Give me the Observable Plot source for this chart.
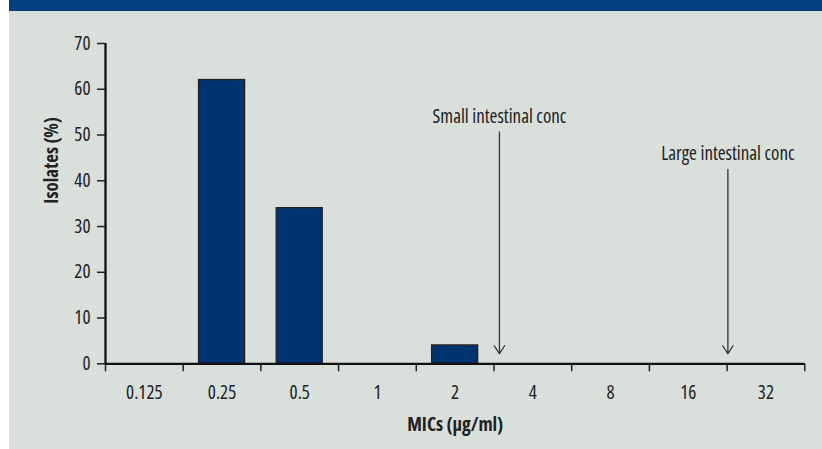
<!DOCTYPE html>
<html><head><meta charset="utf-8">
<script src="https://cdn.jsdelivr.net/npm/d3@7"></script>
<script src="https://cdn.jsdelivr.net/npm/@observablehq/plot@0.6"></script>
<style>
body{margin:0;background:#fff;}
#panel{position:absolute;left:9px;top:0;width:813px;height:449px;background:#d9e0dc;overflow:hidden;}
#band{height:11px;background:#023f80;}
#chart svg{display:block;}
#chart text{font-stretch:75%;}
</style></head><body>
<div id="panel"><div id="band"></div><div id="chart"></div></div>
<script>
// Data
const categories = ["0.125", "0.25", "0.5", "1", "2", "4", "8", "16", "32"];
const isolates = [0, 62, 34, 0, 4, 0, 0, 0, 0];
const yTicks = [0, 10, 20, 30, 40, 50, 60, 70];
const annLabels = ["Small intestinal conc", "Large intestinal conc"];
const annPos = [5.07, 8.01];      // position along the category axis (category index units)
const annTop = [50.7, 42.5];      // arrow start (Isolates %)
const annTip = [2.2, 2.2];        // arrow tip (Isolates %)

const FONT = "'Open Sans', sans-serif";
const FS = 19;
const barPad = 0.205;

const bars = categories.map((c, i) => ({cat: c, i, v: isolates[i]})).filter(d => d.v > 0);
const anns = annLabels.map((l, k) => ({label: l, pos: annPos[k], top: annTop[k], tip: annTip[k]}));
const boundaries = d3.range(categories.length + 1);
const centers = categories.map((c, i) => i + 0.5);

const chart = Plot.plot({
  width: 813,
  height: 438,
  marginTop: 32,
  marginBottom: 85.7,
  marginLeft: 96,
  marginRight: 17.7,
  style: {background: "transparent", fontFamily: FONT, fontSize: FS + "px", color: "#222", fontStretch: "75%"},
  x: {type: "linear", domain: [0, categories.length], axis: null},
  y: {domain: [0, 70], axis: null},
  marks: [
    Plot.axisY({ticks: yTicks, tickSize: 8, tickPadding: 7, tickFormat: d => String(d), label: null, strokeWidth: 1.5, fontSize: FS}),
    Plot.axisX({ticks: boundaries, tickSize: 8, tickFormat: () => "", label: null, strokeWidth: 1.5}),
    Plot.axisX({ticks: centers, tickSize: 0, tickPadding: 22, tickFormat: d => categories[Math.round(d - 0.5)], label: null, fontSize: FS}),
    Plot.rectY(bars, {x1: d => d.i + barPad, x2: d => d.i + 1 - barPad, y1: 0, y2: "v", fill: "#003471", stroke: "#222", strokeWidth: 1.5}),
    Plot.ruleX([0], {y1: 0, y2: 70, stroke: "#111", strokeWidth: 2.3}),
    Plot.ruleY([0], {x1: 0, x2: categories.length, stroke: "#111", strokeWidth: 2.3}),
    Plot.arrow(anns, {x1: "pos", x2: "pos", y1: "top", y2: "tip", stroke: "#333", strokeWidth: 1.3, headLength: 11, headAngle: 66}),
    Plot.text(anns, {x: "pos", y: "top", text: "label", lineAnchor: "bottom", dy: -9, fill: "#222", fontSize: FS}),
    Plot.text(["Isolates (%)"], {frameAnchor: "left", rotate: -90, dx: -54, fontWeight: "bold", fill: "#222", fontSize: FS}),
    Plot.text(["MICs (\u00b5g/ml)"], {frameAnchor: "bottom", dy: 61.6, lineAnchor: "middle", fontWeight: "bold", fill: "#222", fontSize: FS})
  ]
});
document.getElementById("chart").appendChild(chart);
</script>
</body></html>
